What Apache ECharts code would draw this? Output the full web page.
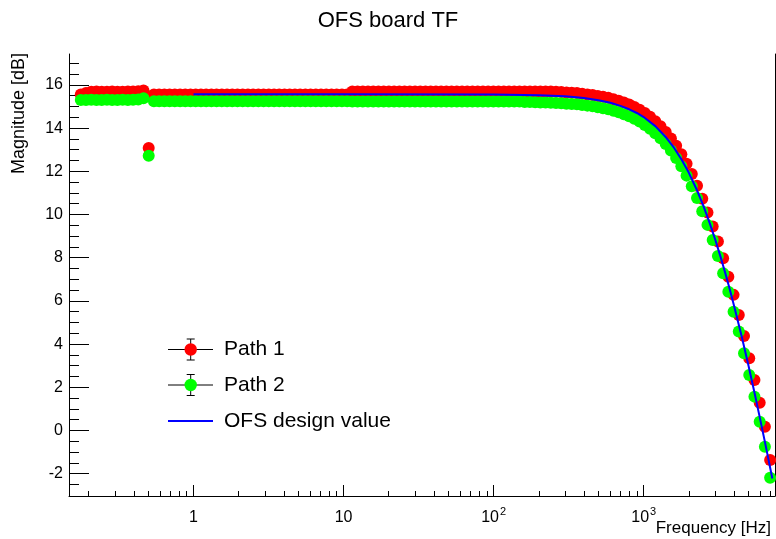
<!DOCTYPE html>
<html>
<head>
<meta charset="utf-8">
<script src="https://cdn.jsdelivr.net/npm/echarts@6/dist/echarts.min.js"></script>
<style>
  html, body { margin: 0; padding: 0; background: #ffffff; }
  #chart { width: 776px; height: 539px; }
</style>
</head>
<body>
<div id="chart"></div>
<script>
// Measured sweep frequencies (Hz), shared by both paths
const frequencyHz = [
  0.1774, 0.1922, 0.2083, 0.2256, 0.2445, 0.2649, 0.2870, 0.3110, 0.3369, 0.3651,
  0.3954, 0.4284, 0.4641, 0.5029, 0.5448, 0.5902, 0.6395, 0.6929, 0.7506, 0.8133,
  0.8810, 0.9546, 1.034, 1.121, 1.214, 1.315, 1.425, 1.544, 1.673, 1.812,
  1.963, 2.127, 2.305, 2.497, 2.705, 2.931, 3.176, 3.441, 3.728, 4.039,
  4.375, 4.741, 5.136, 5.565, 6.029, 6.531, 7.076, 7.667, 8.306, 9.000,
  9.750, 10.56, 11.44, 12.40, 13.43, 14.55, 15.77, 17.08, 18.51, 20.05,
  21.73, 23.54, 25.50, 27.63, 29.94, 32.43, 35.14, 38.07, 41.25, 44.69,
  48.42, 52.46, 56.83, 61.58, 66.71, 72.28, 78.31, 84.84, 91.92, 99.59,
  107.9, 116.9, 126.6, 137.2, 148.7, 161.1, 174.5, 189.1, 204.8, 221.9,
  240.4, 260.5, 282.2, 305.8, 331.3, 358.9, 388.9, 421.3, 456.5, 494.6,
  535.8, 580.5, 628.9, 681.4, 738.3, 799.8, 866.6, 938.9, 1017, 1102,
  1194, 1294, 1402, 1519, 1645, 1782, 1931, 2092, 2267, 2456,
  2661, 2883, 3123, 3384, 3666, 3972, 4303, 4662, 5051, 5472,
  5929, 6423, 6959
];

// Path 1 magnitude (dB)
const path1Db = [
  15.55, 15.62, 15.68, 15.69, 15.68, 15.68, 15.69, 15.68, 15.68, 15.69,
  15.69, 15.70, 15.74, 13.08, 15.55, 15.55, 15.55, 15.55, 15.55, 15.55,
  15.55, 15.55, 15.55, 15.55, 15.55, 15.55, 15.55, 15.55, 15.55, 15.55,
  15.55, 15.55, 15.55, 15.55, 15.55, 15.55, 15.55, 15.55, 15.55, 15.55,
  15.55, 15.55, 15.55, 15.55, 15.55, 15.55, 15.55, 15.55, 15.55, 15.55,
  15.55, 15.55, 15.69, 15.69, 15.69, 15.69, 15.69, 15.69, 15.69, 15.69,
  15.69, 15.69, 15.69, 15.69, 15.69, 15.69, 15.69, 15.69, 15.69, 15.69,
  15.69, 15.69, 15.69, 15.69, 15.69, 15.69, 15.69, 15.69, 15.69, 15.69,
  15.69, 15.69, 15.69, 15.69, 15.69, 15.69, 15.69, 15.69, 15.69, 15.69,
  15.69, 15.68, 15.67, 15.65, 15.64, 15.62, 15.59, 15.56, 15.53, 15.49,
  15.45, 15.40, 15.34, 15.27, 15.18, 15.09, 14.98, 14.85, 14.70, 14.53,
  14.32, 14.09, 13.82, 13.52, 13.18, 12.79, 12.35, 11.87, 11.33, 10.73,
  10.09, 9.44, 8.75, 7.98, 7.12, 6.28, 5.35, 4.38, 3.35, 2.34,
  1.29, 0.18, -1.36
];

// Path 2 magnitude (dB)
const path2Db = [
  15.30, 15.30, 15.31, 15.30, 15.30, 15.31, 15.30, 15.30, 15.31, 15.30,
  15.31, 15.32, 15.38, 12.72, 15.24, 15.24, 15.24, 15.24, 15.24, 15.24,
  15.24, 15.24, 15.24, 15.24, 15.24, 15.24, 15.24, 15.24, 15.24, 15.24,
  15.24, 15.24, 15.24, 15.24, 15.24, 15.24, 15.24, 15.24, 15.24, 15.24,
  15.24, 15.24, 15.24, 15.24, 15.24, 15.24, 15.24, 15.24, 15.24, 15.24,
  15.24, 15.24, 15.23, 15.23, 15.23, 15.23, 15.23, 15.23, 15.23, 15.23,
  15.23, 15.23, 15.23, 15.23, 15.23, 15.23, 15.23, 15.23, 15.23, 15.23,
  15.23, 15.23, 15.23, 15.23, 15.23, 15.23, 15.23, 15.23, 15.23, 15.23,
  15.23, 15.23, 15.23, 15.23, 15.23, 15.21, 15.21, 15.20, 15.19, 15.18,
  15.17, 15.16, 15.15, 15.13, 15.12, 15.10, 15.07, 15.04, 15.01, 14.97,
  14.92, 14.87, 14.80, 14.73, 14.64, 14.55, 14.43, 14.30, 14.14, 13.97,
  13.76, 13.53, 13.26, 12.96, 12.62, 12.23, 11.80, 11.31, 10.76, 10.15,
  9.52, 8.82, 8.08, 7.28, 6.43, 5.50, 4.58, 3.58, 2.57, 1.57,
  0.41, -0.75, -2.18
];

// OFS design transfer function
const designFreqHz = [1, 10, 100, 200, 300, 400, 500, 600, 700, 800, 900, 1000,
  1200, 1400, 1600, 1800, 2000, 2250, 2500, 2750, 3000, 3250, 3500, 3750, 4000,
  4500, 5000, 5500, 6000, 6500, 7000, 7200];
const designDb = [15.57, 15.57, 15.56, 15.52, 15.47, 15.39, 15.29, 15.17, 15.03, 14.87, 14.70, 14.51,
  14.08, 13.59, 13.07, 12.51, 11.93, 11.17, 10.40, 9.61, 8.83, 8.05, 7.28, 6.53, 5.78,
  4.35, 2.99, 1.69, 0.46, -0.70, -1.80, -2.22];

// Axis ticks
const xMajorTicks = [1, 10, 100, 1000];
const xMinorTicks = [0.2, 0.3, 0.4, 0.5, 0.6, 0.7, 0.8, 0.9,
  2, 3, 4, 5, 6, 7, 8, 9, 20, 30, 40, 50, 60, 70, 80, 90,
  200, 300, 400, 500, 600, 700, 800, 900, 2000, 3000, 4000, 5000, 6000, 7000];
const yMajorTicks = [-2, 0, 2, 4, 6, 8, 10, 12, 14, 16];
const yMinorTicks = [-2.5, -1.5, -1, -0.5, 0.5, 1, 1.5, 2.5, 3, 3.5, 4.5, 5, 5.5,
  6.5, 7, 7.5, 8.5, 9, 9.5, 10.5, 11, 11.5, 12.5, 13, 13.5, 14.5, 15, 15.5, 16.5, 17];

const X_MIN = 0.148, X_MAX = 7500;
const Y_MIN = -3.03, Y_MAX = 17.43;
const FONT = '"Liberation Sans", Arial, Helvetica, sans-serif';

const chart = echarts.init(document.getElementById('chart'), null, { renderer: 'canvas' });

const pairs = (xs, ys) => xs.map((x, i) => [x, ys[i]]);

function legendMarker(y, color) {
  const cx = 190.7;
  return [
    { type: 'line', shape: { x1: 168, y1: y, x2: 213, y2: y }, style: { stroke: '#000', lineWidth: 1 } },
    { type: 'line', shape: { x1: cx, y1: y - 10.5, x2: cx, y2: y + 10.5 }, style: { stroke: '#000', lineWidth: 1 } },
    { type: 'line', shape: { x1: cx - 4, y1: y - 10.5, x2: cx + 4, y2: y - 10.5 }, style: { stroke: '#000', lineWidth: 1 } },
    { type: 'line', shape: { x1: cx - 4, y1: y + 10.5, x2: cx + 4, y2: y + 10.5 }, style: { stroke: '#000', lineWidth: 1 } },
    { type: 'circle', shape: { cx: cx, cy: y, r: 6.2 }, style: { fill: color } }
  ];
}

const legendText = (y, text) => ({
  type: 'text', x: 224, y: y,
  style: { text: text, font: '21px ' + FONT, fill: '#000', verticalAlign: 'middle', align: 'left' }
});

const option = {
  animation: false,
  backgroundColor: '#ffffff',
  grid: { left: 69, right: 1, top: 54, bottom: 43, containLabel: false },
  xAxis: [
    {
      type: 'log', logBase: 10, min: X_MIN, max: X_MAX, position: 'bottom',
      axisLine: { show: true, onZero: false, lineStyle: { color: '#000', width: 1 } },
      axisTick: { show: true, inside: true, length: 11, customValues: xMajorTicks, lineStyle: { color: '#000' } },
      axisLabel: {
        show: true, customValues: xMajorTicks, margin: 10, color: '#000',
        fontFamily: FONT, fontSize: 16,
        formatter: function (v) {
          const e = Math.round(Math.log10(v));
          return e < 2 ? '{b|' + Math.round(v) + '}' : '{b|10}{e|' + e + '}';
        },
        rich: {
          b: { fontFamily: FONT, fontSize: 16, color: '#000', verticalAlign: 'bottom', lineHeight: 20 },
          e: { fontFamily: FONT, fontSize: 11, color: '#000', verticalAlign: 'top', lineHeight: 12, padding: [0, 0, 0, 1] }
        }
      },
      splitLine: { show: false }
    },
    {
      type: 'log', logBase: 10, min: X_MIN, max: X_MAX, gridIndex: 0, position: 'bottom',
      axisLine: { show: false, onZero: false },
      axisTick: { show: true, inside: true, length: 5, customValues: xMinorTicks, lineStyle: { color: '#000' } },
      axisLabel: { show: false },
      splitLine: { show: false }
    }
  ],
  yAxis: [
    {
      type: 'value', min: Y_MIN, max: Y_MAX, position: 'left',
      axisLine: { show: true, onZero: false, lineStyle: { color: '#000', width: 1 } },
      axisTick: { show: true, inside: true, length: 20, customValues: yMajorTicks, lineStyle: { color: '#000' } },
      axisLabel: { show: true, customValues: yMajorTicks, margin: 6, color: '#000', fontFamily: FONT, fontSize: 16 },
      splitLine: { show: false }
    },
    {
      type: 'value', min: Y_MIN, max: Y_MAX, position: 'left', offset: 0,
      axisLine: { show: false, onZero: false },
      axisTick: { show: true, inside: true, length: 10, customValues: yMinorTicks, lineStyle: { color: '#000' } },
      axisLabel: { show: false },
      splitLine: { show: false }
    },
    {
      type: 'value', min: Y_MIN, max: Y_MAX, position: 'right', offset: 0,
      axisLine: { show: true, onZero: false, lineStyle: { color: '#000', width: 1 } },
      axisTick: { show: false },
      axisLabel: { show: false },
      splitLine: { show: false }
    }
  ],
  series: [
    {
      name: 'Path 1', type: 'scatter', xAxisIndex: 0, yAxisIndex: 0,
      data: pairs(frequencyHz, path1Db),
      symbol: 'circle', symbolSize: 12,
      itemStyle: { color: '#ff0000', opacity: 1 },
      emphasis: { disabled: true }, z: 2
    },
    {
      name: 'Path 2', type: 'scatter', xAxisIndex: 0, yAxisIndex: 0,
      data: pairs(frequencyHz, path2Db),
      symbol: 'circle', symbolSize: 12,
      itemStyle: { color: '#00ff00', opacity: 1 },
      emphasis: { disabled: true }, z: 3
    },
    {
      name: 'OFS design value', type: 'line', xAxisIndex: 0, yAxisIndex: 0,
      data: pairs(designFreqHz, designDb),
      showSymbol: false, symbol: 'none', smooth: false,
      lineStyle: { color: '#0000ff', width: 2 },
      emphasis: { disabled: true }, z: 4
    }
  ],
  graphic: [
    {
      type: 'text', x: 388, y: 21,
      style: { text: 'OFS board TF', font: '22px ' + FONT, fill: '#000', align: 'center', verticalAlign: 'middle' }
    },
    {
      type: 'text', x: 771, y: 528,
      style: { text: 'Frequency [Hz]', font: '17px ' + FONT, fill: '#000', align: 'right', verticalAlign: 'middle' }
    },
    {
      type: 'text', x: 19.5, y: 53, rotation: Math.PI / 2,
      style: { text: 'Magnitude [dB]', font: '18px ' + FONT, fill: '#000', align: 'right', verticalAlign: 'middle' }
    },
    ...legendMarker(349.5, '#ff0000'),
    legendText(349.5, 'Path 1'),
    ...legendMarker(385, '#00ff00'),
    legendText(385, 'Path 2'),
    { type: 'line', shape: { x1: 168, y1: 421, x2: 213, y2: 421 }, style: { stroke: '#0000ff', lineWidth: 2 } },
    legendText(421, 'OFS design value')
  ]
};

chart.setOption(option);
</script>
</body>
</html>
